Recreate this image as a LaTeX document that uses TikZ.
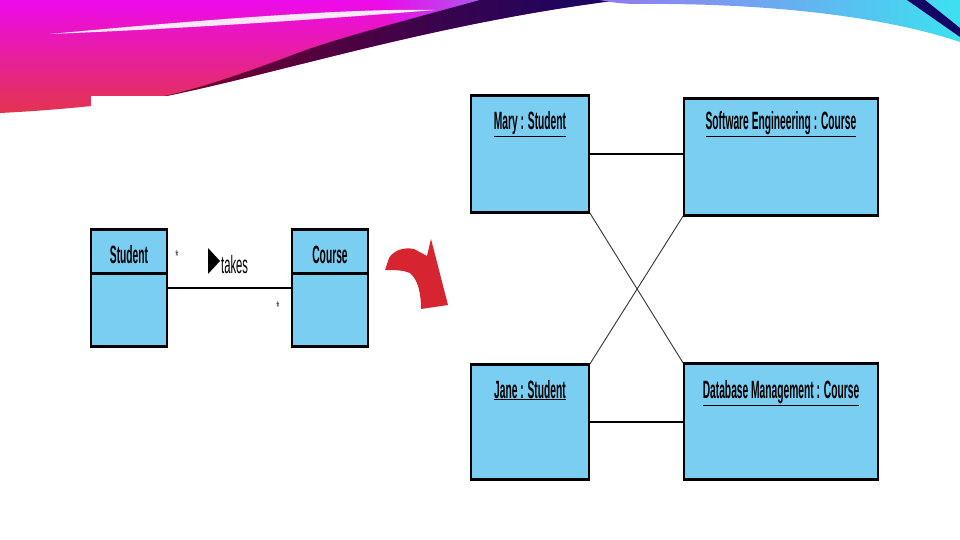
\documentclass[tikz,border=0pt]{standalone}
\usepackage{fontspec}
\newfontfamily\umlfont[FakeStretch=0.41]{Liberation Sans Bold}
\newfontfamily\rolefont[FakeStretch=0.45]{Liberation Sans}
\definecolor{boxblue}{RGB}{122,206,242}
\definecolor{arrowred}{RGB}{214,36,48}
\definecolor{swmag}{RGB}{236,10,236}
\definecolor{swpink}{RGB}{240,40,150}
\definecolor{swred}{RGB}{226,52,78}
\definecolor{swmaroon}{RGB}{120,0,40}
\definecolor{swnavy}{RGB}{20,5,100}
\definecolor{swlilac}{RGB}{150,120,240}
\definecolor{swcyan}{RGB}{60,225,240}

\begin{document}
\begin{tikzpicture}[x=1pt,y=-1pt,
  umlbox/.style={draw=black, line width=1.2pt, fill=boxblue, inner sep=0pt},
  umltext/.style={font=\umlfont\fontsize{25}{28}\selectfont, inner sep=0pt, anchor=base, text=black},
  multtext/.style={font=\umlfont\fontsize{16}{16}\selectfont, inner sep=0pt, text=black!70},
  link/.style={line width=2.5pt},
  crosslink/.style={line width=0.9pt, black!80}]
  \useasboundingbox (0,0) rectangle (960,540);

  % === Banner ===
  \shade[top color=swmag, middle color=swpink, bottom color=swred]
    (0,0) -- (620,0) .. controls (420,25) and (260,80) .. (140,101)
    .. controls (100,105) and (60,110) .. (0,113) -- cycle;
  \shade[left color=swmag, right color=swlilac, opacity=0.7]
    (380,0) -- (480,0) .. controls (440,12) and (420,18) .. (400,24) .. controls (390,18) and (385,8) .. (380,0) -- cycle;
  \shade[left color=swmaroon, right color=swnavy]
    (140,101) .. controls (260,80) and (420,25) .. (620,0) -- (480,0)
    .. controls (400,22) and (330,40) .. (290,56) .. controls (230,78) and (190,92) .. (140,101) -- cycle;
  \shade[left color=swlilac, right color=swcyan]
    (600,0) -- (960,0) -- (960,42) .. controls (880,15) and (760,3) .. (640,4)
    .. controls (620,4) and (610,2) .. (600,0) -- cycle;
  \fill[swnavy] (907,0) -- (925,0) -- (960,28) -- (960,37) -- cycle;
  \fill[white, opacity=0.9] (50,34) .. controls (200,20) and (350,8) .. (435,10)
    .. controls (350,17) and (200,28) .. (50,34) -- cycle;
  \fill[white] (91,96) rectangle (200,120);

  % === Class diagram ===
  \node[umlbox, minimum width=76pt, minimum height=116pt] (student) at (129,288) {};
  \node[umlbox, minimum width=76pt, minimum height=116pt] (course) at (330,288) {};
  \foreach \n in {student,course}
    \draw[line width=3pt] ([yshift=-44pt]\n.north west) -- ([yshift=-44pt]\n.north east);
  \node[umltext] (studentname) at (129,263) {Student};
  \node[umltext] (coursename) at (330,263) {Course};
  \draw[link] (student) -- (course);
  \node[multtext] (multstudent) at (177,256) {*};
  \node[multtext] (multcourse) at (278,307) {*};
  \fill (208,248) -- (220,261) -- (208,274) -- cycle;
  \node[umltext, anchor=base west, font=\rolefont\fontsize{25}{28}\selectfont]
    (takes) at (221,273) {takes};

  % === Red arrow ===
  \fill[arrowred] (385,270) -- (389,258) .. controls (394,250) and (404,247) .. (414,249)
    -- (427,256) -- (431,239) -- (448,305) -- (421,309) .. controls (421,293) and (418,280) .. (410,273)
    .. controls (403,270) and (395,270) .. (385,270) -- cycle;

  % === Object diagram ===
  \node[umlbox, minimum width=118pt, minimum height=116pt] (mary) at (530,154) {};
  \node[umlbox, minimum width=194pt, minimum height=116pt] (se) at (781,157) {};
  \node[umlbox, minimum width=118pt, minimum height=114pt] (jane) at (530,422) {};
  \node[umlbox, minimum width=194pt, minimum height=115pt] (db) at (781,421.5) {};
  \node[umltext] (maryname) at (530,130) {\underline{Mary : Student}};
  \node[umltext] (sename) at (781,130) {\underline{Software Engineering : Course}};
  \node[umltext] (janename) at (530,398) {\underline{Jane : Student}};
  \node[umltext] (dbname) at (781,398) {\underline{Database Management : Course}};

  % Links
  \draw[link] (mary.east) -- (mary.east -| se.west);
  \draw[link] (jane.east) -- (jane.east -| db.west);
  \draw[crosslink] (mary.south east) -- (db.north west);
  \draw[crosslink] (se.south west) -- (jane.north east);

  % Thick top and bottom edges
  \foreach \n in {student,course,mary,se,jane,db}
    \draw[line width=3.2pt] (\n.north west) -- (\n.north east) (\n.south west) -- (\n.south east);
\end{tikzpicture}
\end{document}
